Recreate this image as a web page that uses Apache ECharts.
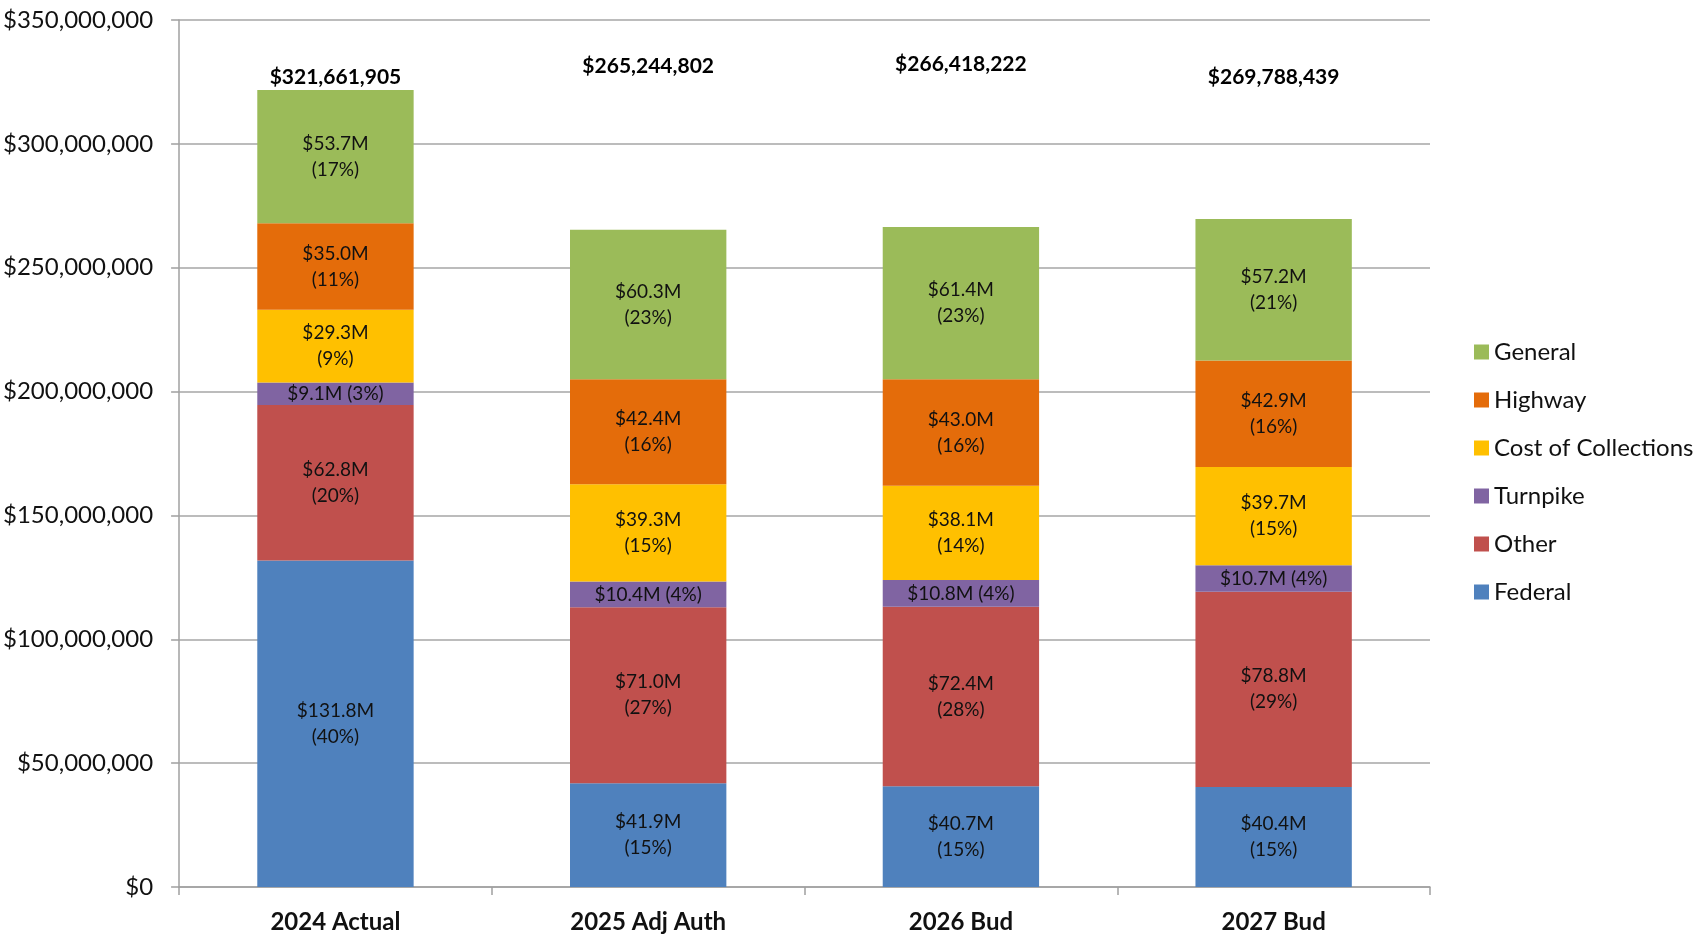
<!DOCTYPE html>
<html>
<head>
<meta charset="utf-8">
<title>Revenue by Fund</title>
<script src="https://cdn.jsdelivr.net/npm/echarts@6/dist/echarts.min.js"></script>
<style>
    html, body { margin: 0; padding: 0; background: #fff; }
    #stacked-bar { width: 1698px; height: 936px; }
</style>
</head>
<body>
<div id="stacked-bar"></div>
<script>
    // Categories and values (millions of dollars)
    var years = ['2024 Actual', '2025 Adj Auth', '2026 Bud', '2027 Bud'];
    var totals = ['$321,661,905', '$265,244,802', '$266,418,222', '$269,788,439'];

    var federal = [131.8, 41.9, 40.7, 40.4];
    var other = [62.8, 71.0, 72.4, 78.8];
    var turnpike = [9.1, 10.4, 10.8, 10.7];
    var costOfCollections = [29.3, 39.3, 38.1, 39.7];
    var highway = [35.0, 42.4, 43.0, 42.9];
    var general = [53.7, 60.3, 61.4, 57.2];

    // Shares shown on the labels
    var federalPct = [40, 15, 15, 15];
    var otherPct = [20, 27, 28, 29];
    var turnpikePct = [3, 4, 4, 4];
    var costPct = [9, 15, 14, 15];
    var highwayPct = [11, 16, 16, 16];
    var generalPct = [17, 23, 23, 21];

    var yTicks = { min: 0, max: 350000000, interval: 50000000 };

    var font = 'Lato';

    function money(n) {
        return '$' + Math.round(n).toString().replace(/\B(?=(\d{3})+(?!\d))/g, ',');
    }

    function segment(name, color, values, pcts, oneLine) {
        return {
            name: name,
            type: 'bar',
            stack: 'total',
            barWidth: '50%',
            itemStyle: { color: color },
            label: {
                show: true,
                position: 'inside',
                color: '#111',
                fontFamily: font,
                fontSize: 19,
                lineHeight: 26,
                formatter: function (p) {
                    var m = '$' + values[p.dataIndex].toFixed(1) + 'M';
                    var s = '(' + pcts[p.dataIndex] + '%)';
                    return oneLine ? m + ' ' + s : m + '\n' + s;
                }
            },
            data: values.map(function (v) { return v * 1000000; })
        };
    }

    // Totals are placed above the bars, as in the source sheet
    var totalHeights = [327000000, 331500000, 332000000, 327000000];

    var chart = echarts.init(document.getElementById('stacked-bar'));
    var option = {
        animation: false,
        textStyle: { fontFamily: font },
        grid: { left: 178, right: 268, top: 20, bottom: 49 },
        legend: {
            orient: 'vertical',
            left: 1469,
            top: 335,
            itemWidth: 15,
            itemHeight: 15,
            itemGap: 24,
            icon: 'rect',
            data: ['General', 'Highway', 'Cost of Collections', 'Turnpike', 'Other', 'Federal'],
            textStyle: { fontFamily: font, fontSize: 24, lineHeight: 24, color: '#111' }
        },
        xAxis: {
            type: 'category',
            data: years,
            axisLine: { lineStyle: { color: '#a0a0a0', width: 1.5 } },
            axisTick: { show: true, length: 8, alignWithLabel: false, lineStyle: { color: '#a0a0a0', width: 1.5 } },
            axisLabel: { margin: 23, color: '#111', fontFamily: font, fontSize: 24, fontWeight: 'bold' }
        },
        yAxis: {
            type: 'value',
            min: yTicks.min,
            max: yTicks.max,
            interval: yTicks.interval,
            axisLine: { show: true, lineStyle: { color: '#a0a0a0', width: 1.5 } },
            axisTick: { show: true, length: 8, lineStyle: { color: '#a0a0a0', width: 1.5 } },
            splitLine: { lineStyle: { color: '#a6a6a6', width: 1.5 } },
            axisLabel: {
                margin: 26,
                color: '#111',
                fontFamily: font,
                fontSize: 24,
                formatter: money
            }
        },
        series: [
            segment('Federal', '#4f81bd', federal, federalPct),
            segment('Other', '#c0504d', other, otherPct),
            segment('Turnpike', '#8064a2', turnpike, turnpikePct, true),
            segment('Cost of Collections', '#ffc000', costOfCollections, costPct),
            segment('Highway', '#e46c0a', highway, highwayPct),
            segment('General', '#9bbb59', general, generalPct),
            {
                name: 'Total',
                type: 'scatter',
                symbolSize: 0,
                silent: true,
                itemStyle: { opacity: 1 },
                label: {
                    show: true,
                    position: 'inside',
                    color: '#000',
                    fontFamily: font,
                    fontSize: 21,
                    fontWeight: 'bold',
                    formatter: function (p) { return totals[p.dataIndex]; }
                },
                data: totals.map(function (t, i) { return [i, totalHeights[i]]; })
            }
        ]
    };

    chart.setOption(option);
</script>
</body>
</html>
